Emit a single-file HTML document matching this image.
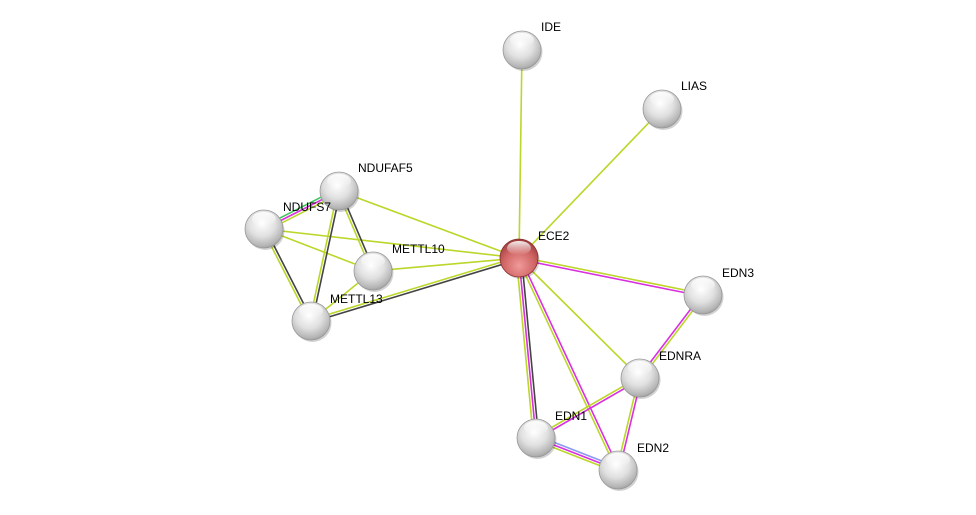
<!DOCTYPE html>
<html><head><meta charset="utf-8"><style>
html,body{margin:0;padding:0;background:#fff;width:976px;height:515px;overflow:hidden}
text{font-family:"Liberation Sans",sans-serif;font-size:12px;fill:#000}
</style></head><body>
<svg id="s" width="976" height="515" xmlns="http://www.w3.org/2000/svg">
<defs>
<radialGradient id="gw" cx="0.45" cy="0.35" r="0.7">
<stop offset="0" stop-color="#ffffff"/><stop offset="0.5" stop-color="#e0e0e0"/><stop offset="0.85" stop-color="#b4b4b4"/><stop offset="1" stop-color="#959595"/></radialGradient>
<radialGradient id="gr" cx="0.5" cy="0.7" r="0.7">
<stop offset="0" stop-color="#f09a9a"/><stop offset="0.6" stop-color="#d06464"/><stop offset="1" stop-color="#9a3a3a"/></radialGradient>
<linearGradient id="hl" x1="0" y1="0" x2="0" y2="1"><stop offset="0" stop-color="#fff" stop-opacity="0.9"/><stop offset="1" stop-color="#fff" stop-opacity="0"/></linearGradient>
</defs>
<g id="edges"></g><g id="nodes"></g>
</svg>
<script>
var N={IDE:[522,50,"IDE",19,-28],LIAS:[662,109,"LIAS",19,-28],NDUFAF5:[339,191,"NDUFAF5",19,-28],NDUFS7:[264,229,"NDUFS7",19,-27],
METTL10:[373,271,"METTL10",19,-27],ECE2:[519,258,"ECE2",19,-27],EDN3:[703,295,"EDN3",19,-27],METTL13:[311,321,"METTL13",19,-27],
EDNRA:[640,378,"EDNRA",19,-27],EDN1:[536,438,"EDN1",19,-27],EDN2:[618,470,"EDN2",19,-27]};
var C={y:"#bcd62a",m:"#d92fe0",k:"#444",g:"#3cc85a",b:"#8a9af0"};
var E=[["ECE2","IDE","y"],["ECE2","LIAS","y"],["ECE2","NDUFAF5","y"],["ECE2","NDUFS7","y"],["ECE2","METTL10","y"],
["ECE2","METTL13","ky"],["ECE2","EDN3","ym"],["ECE2","EDNRA","y"],["ECE2","EDN1","kmy"],["ECE2","EDN2","my"],
["NDUFS7","NDUFAF5","gmy"],["NDUFS7","METTL10","y"],["NDUFS7","METTL13","ky"],["NDUFAF5","METTL10","ky"],
["NDUFAF5","METTL13","ky"],["METTL10","METTL13","y"],["EDN3","EDNRA","ym"],["EDNRA","EDN1","my"],["EDNRA","EDN2","my"],["EDN1","EDN2","bmy"]];
var ns="http://www.w3.org/2000/svg",eg=document.getElementById("edges"),ng=document.getElementById("nodes");
E.forEach(function(e){var a=N[e[0]],b=N[e[1]],dx=b[0]-a[0],dy=b[1]-a[1],L=Math.hypot(dx,dy),px=-dy/L,py=dx/L,n=e[2].length;
for(var i=0;i<n;i++){var o=(i-(n-1)/2)*2.6;var l=document.createElementNS(ns,"line");
l.setAttribute("x1",a[0]+px*o);l.setAttribute("y1",a[1]+py*o);l.setAttribute("x2",b[0]+px*o);l.setAttribute("y2",b[1]+py*o);
l.setAttribute("stroke",C[e[2][i]]);l.setAttribute("stroke-width","1.6");eg.appendChild(l);}});
for(var k in N){var v=N[k];
var sh=document.createElementNS(ns,"circle");sh.setAttribute("cx",v[0]+1.5);sh.setAttribute("cy",v[1]+2);sh.setAttribute("r",19);sh.setAttribute("fill","#000");sh.setAttribute("opacity","0.18");ng.appendChild(sh);
var c=document.createElementNS(ns,"circle");c.setAttribute("cx",v[0]);c.setAttribute("cy",v[1]);c.setAttribute("r",19);
c.setAttribute("fill",k=="ECE2"?"url(#gr)":"url(#gw)");c.setAttribute("stroke",k=="ECE2"?"#8a3030":"#999");c.setAttribute("stroke-width","0.8");ng.appendChild(c);
var h=document.createElementNS(ns,"ellipse");h.setAttribute("cx",v[0]);h.setAttribute("cy",v[1]-10);h.setAttribute("rx",12);h.setAttribute("ry",7);h.setAttribute("fill","url(#hl)");ng.appendChild(h);
var t=document.createElementNS(ns,"text");t.setAttribute("x",v[0]+19);t.setAttribute("y",v[1]+v[4]+9);t.textContent=v[2];ng.appendChild(t);}
</script>
</body></html>
